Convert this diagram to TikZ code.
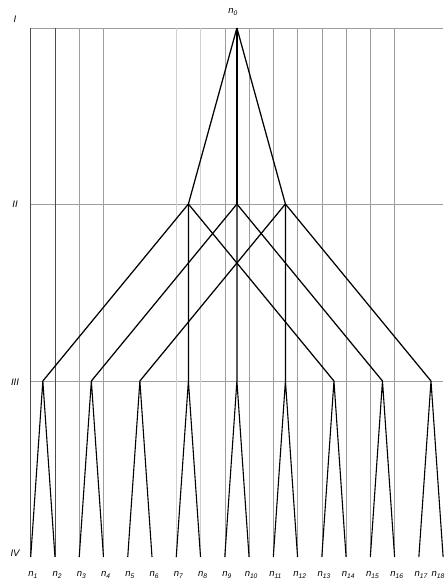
\documentclass[tikz,border=0pt]{standalone}
\usepackage{fontspec}
\setsansfont{Liberation Sans}
\begin{document}
\begin{tikzpicture}[x=1pt,y=-1pt,
  gridline/.style={draw=black!38,line width=0.5pt},
  gridlight/.style={draw=black!18,line width=0.5pt},
  griddark/.style={draw=black!70,line width=0.5pt},
  edge/.style={draw=black,line width=1.25pt},
  lvl/.style={font=\sffamily\itshape\fontsize{9.5}{10}\selectfont,inner sep=0pt},
  nlab/.style={font=\sffamily\itshape\fontsize{9.5}{10}\selectfont,inner sep=0pt}]
\useasboundingbox (0,0) rectangle (445,586);
% coordinates
\foreach \k in {1,...,18} \coordinate (b\k) at ({30.7+24.26*(\k-1)},557);
\foreach \j in {1,...,9} \coordinate (t\j) at ({42.83+48.52*(\j-1)},381);
\coordinate (m1) at (188.4,204);
\coordinate (m2) at (236.9,204);
\coordinate (m3) at (285.4,204);
\coordinate (n0) at (236.9,28);
% horizontal level lines
\coordinate (hIa) at (30.7,28);  \coordinate (hIb) at (443,28);
\coordinate (hIIa) at (30.7,204); \coordinate (hIIb) at (443,204);
\coordinate (hIIIa) at (30.7,381); \coordinate (hIIIb) at (443,381);
\draw[gridline] (hIa) -- (hIb);
\draw[gridline] (hIIa) -- (hIIb);
\draw[gridline] (hIIIa) -- (hIIIb);
% vertical lines
\foreach \k in {1,2} {\coordinate (v\k) at ({30.7+24.26*(\k-1)},28); \draw[griddark] (v\k) -- (b\k);}
\foreach \k in {3,4,9,10,11,12,13,14,15,16} {\coordinate (v\k) at ({30.7+24.26*(\k-1)},28); \draw[gridline] (v\k) -- (b\k);}
\foreach \k in {7,8} {\coordinate (v\k) at ({30.7+24.26*(\k-1)},28); \draw[gridlight] (v\k) -- (b\k);}
% tree edges
\draw[edge] (n0) -- (m1);
\draw[edge] (n0) -- (m2);
\draw[edge] (n0) -- (m3);
\draw[edge] (m1) -- (t1); \draw[edge] (m1) -- (t4); \draw[edge] (m1) -- (t7);
\draw[edge] (m2) -- (t2); \draw[edge] (m2) -- (t5); \draw[edge] (m2) -- (t8);
\draw[edge] (m3) -- (t3); \draw[edge] (m3) -- (t6); \draw[edge] (m3) -- (t9);
\foreach \j [evaluate=\j as \a using int(2*\j-1), evaluate=\j as \b using int(2*\j)] in {1,...,9} {
  \draw[edge,line width=1.1pt] (b\a) -- (t\j) -- (b\b);
}
% labels
\node[lvl] (LI) at (15,19) {I};
\node[lvl] (LII) at (15,204) {II};
\node[lvl] (LIII) at (15,382) {III};
\node[lvl] (LIV) at (15,553) {IV};
\node[nlab] (ln0) at (233,12) {n\textsubscript{0}};
\foreach \k in {1,...,17} \node[nlab] (ln\k) at ({33+24.26*(\k-1)},575) {n\textsubscript{\k}};
\node[nlab,anchor=east] (ln18) at (445,575) {n\textsubscript{18}};
\end{tikzpicture}
\end{document}
